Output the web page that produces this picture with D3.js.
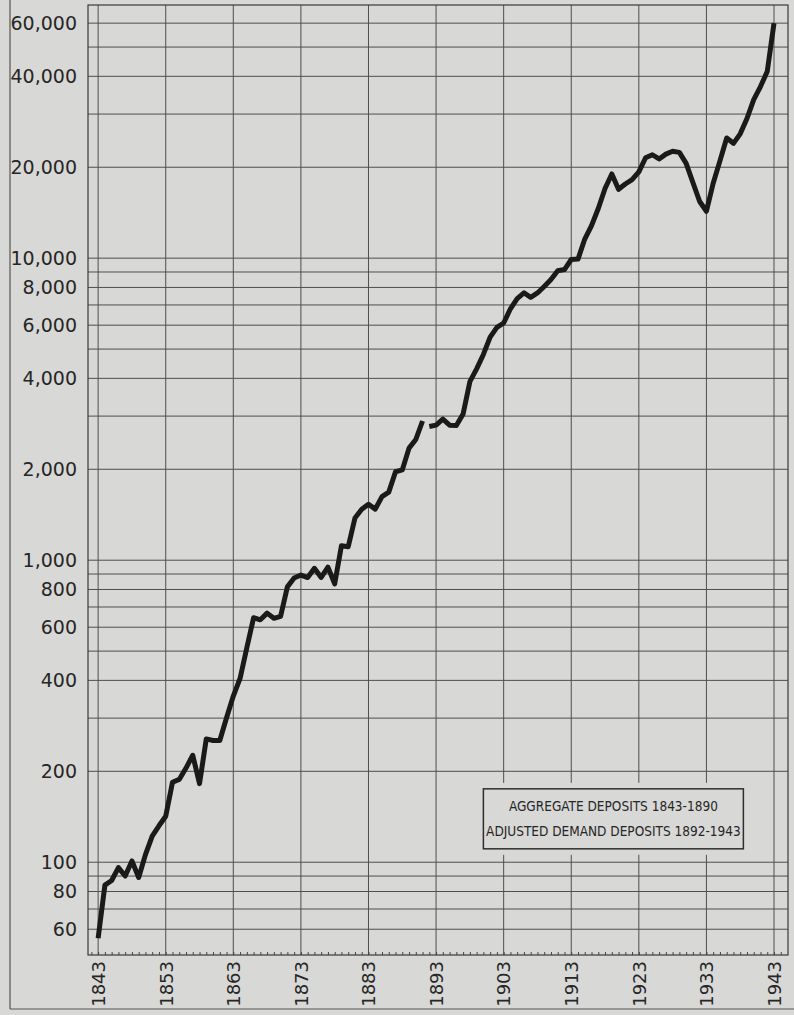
<!DOCTYPE html>
<html>
<head>
<meta charset="utf-8">
<script src="https://cdn.jsdelivr.net/npm/d3@7"></script>
<style>
body { margin: 0; background: #d8d8d6; }
.chart svg { display: block; }
</style>
</head>
<body>
<div class="chart"></div>
<script>
// Aggregate deposits, 1843-1891 (millions of dollars)
const aggYears = d3.range(1843, 1892);
const aggValues = [
    56, 84, 87, 96, 90, 101, 89, 106, 122, 132,
    142, 184, 188, 205, 226, 182, 256, 253, 253, 301,
    355, 406, 513, 645, 635, 668, 642, 652, 816, 873,
    893, 876, 940, 877, 949, 835, 1117, 1108, 1380, 1474,
    1532, 1476, 1624, 1680, 1963, 1990, 2350, 2510, 2890
];

// Adjusted demand deposits, 1892-1943
const demandYears = d3.range(1892, 1944);
const demandValues = [
    2770, 2800, 2930, 2800, 2790, 3050, 3900, 4300, 4800, 5480,
    5900, 6100, 6800, 7350, 7680, 7420, 7670, 8060, 8500, 9080,
    9170, 9900, 9930, 11570, 12820, 14600, 17000, 19000, 16900, 17600,
    18200, 19300, 21500, 22000, 21300, 22100, 22600, 22400, 20600, 17800,
    15400, 14300, 17700, 21000, 25000, 24000, 25800, 29000, 33500, 37000,
    41500, 60000
];

// Tick labels and grid lines
const yTickValues = [60, 80, 100, 200, 400, 600, 800, 1000, 2000, 4000, 6000, 8000, 10000, 20000, 40000, 60000];
const yGridValues = [60, 70, 80, 90, 100, 200, 300, 400, 500, 600, 700, 800, 900,
    1000, 2000, 3000, 4000, 5000, 6000, 7000, 8000, 9000,
    10000, 20000, 30000, 40000, 50000, 60000];
const xTickYears = [1843, 1853, 1863, 1873, 1883, 1893, 1903, 1913, 1923, 1933, 1943];
const legendLines = ["AGGREGATE DEPOSITS 1843-1890", "ADJUSTED DEMAND DEPOSITS 1892-1943"];

const W = 794, H = 1015;
const margin = { top: 5, right: 6, bottom: 60, left: 88 };
const width = W - margin.left - margin.right;
const height = H - margin.top - margin.bottom;

const paper = "#d8d8d6";
const ink = "#262626";
const gridColor = "#4e4e4e";

const svg = d3.select(".chart").append("svg")
    .attr("width", W)
    .attr("height", H)
    .style("background", paper);

// page border from the scan
svg.append("line")
    .attr("x1", 10).attr("x2", 10)
    .attr("y1", 0).attr("y2", 1009)
    .attr("stroke", "#555").attr("stroke-width", 1.2);
svg.append("line")
    .attr("x1", 10).attr("x2", W)
    .attr("y1", 1009).attr("y2", 1009)
    .attr("stroke", "#555").attr("stroke-width", 1.2);

const g = svg.append("g")
    .attr("transform", `translate(${margin.left},${margin.top})`);

const x = d3.scaleLinear()
    .domain([1841.5, 1945.07])
    .range([0, width]);

const y = d3.scaleLog()
    .domain([49.3, 68900])
    .range([height, 0]);

// horizontal grid
g.append("g")
    .selectAll("line")
    .data(yGridValues)
    .enter().append("line")
    .attr("x1", 0)
    .attr("x2", width)
    .attr("y1", d => y(d))
    .attr("y2", d => y(d))
    .attr("stroke", gridColor)
    .attr("stroke-width", 1);

// vertical grid (every ten years)
g.append("g")
    .selectAll("line")
    .data(xTickYears)
    .enter().append("line")
    .attr("x1", d => x(d))
    .attr("x2", d => x(d))
    .attr("y1", 0)
    .attr("y2", height)
    .attr("stroke", gridColor)
    .attr("stroke-width", 1);

// frame
g.append("rect")
    .attr("width", width)
    .attr("height", height)
    .attr("fill", "none")
    .attr("stroke", "#3a3a3a")
    .attr("stroke-width", 1.2);

// small year ticks along the bottom
g.append("g")
    .attr("transform", `translate(0,${height})`)
    .call(d3.axisBottom(x).tickValues(d3.range(1842, 1945)).tickSize(-3).tickFormat(""))
    .call(a => a.select(".domain").remove())
    .selectAll("line").attr("stroke", "#444");

// legend box (clears the grid behind it)
const legend = g.append("g")
    .attr("transform", `translate(${x(1900)},${y(175)})`);
legend.append("rect")
    .attr("x", -6).attr("y", -6)
    .attr("width", 272).attr("height", 72)
    .attr("fill", paper);
legend.append("rect")
    .attr("width", 260).attr("height", 60)
    .attr("fill", paper)
    .attr("stroke", "#2e2e2e")
    .attr("stroke-width", 1.5);
legend.selectAll("text")
    .data(legendLines)
    .enter().append("text")
    .attr("x", 130)
    .attr("y", (d, i) => 22 + i * 25)
    .attr("text-anchor", "middle")
    .style("font-family", "'DejaVu Sans Condensed', 'DejaVu Sans', sans-serif")
    .style("font-stretch", "condensed")
    .style("font-size", "13.5px")
    .attr("fill", ink)
    .text(d => d);

// the deposit lines
const line = d3.line()
    .x(d => x(d[0]))
    .y(d => y(d[1]));

[d3.zip(aggYears, aggValues), d3.zip(demandYears, demandValues)].forEach(series => {
    g.append("path")
        .datum(series)
        .attr("fill", "none")
        .attr("stroke", "#1a1a1a")
        .attr("stroke-width", 5)
        .attr("stroke-linejoin", "round")
        .attr("d", line);
});

// y axis labels
g.append("g")
    .attr("transform", "translate(-8,0)")
    .call(d3.axisLeft(y).tickValues(yTickValues).tickFormat(d3.format(",")).tickSize(0))
    .call(a => a.select(".domain").remove())
    .selectAll("text")
    .style("font-family", "'DejaVu Sans', sans-serif")
    .style("font-size", "19px")
    .attr("fill", ink);

// x axis labels, rotated
g.append("g")
    .attr("transform", `translate(0,${height})`)
    .call(d3.axisBottom(x).tickValues(xTickYears).tickFormat(d3.format("d")).tickSize(0))
    .call(a => a.select(".domain").remove())
    .selectAll("text")
    .attr("transform", "translate(0,6) rotate(-90)")
    .attr("text-anchor", "end")
    .attr("x", 0)
    .attr("y", 0)
    .attr("dy", "0.35em")
    .style("font-family", "'DejaVu Sans', sans-serif")
    .style("font-size", "18px")
    .attr("fill", ink);
</script>
</body>
</html>
